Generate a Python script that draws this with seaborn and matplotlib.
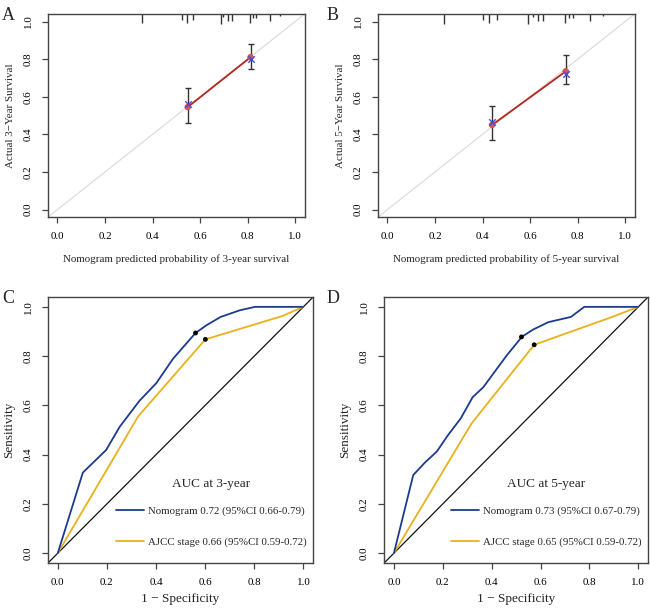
import numpy as np
import pandas as pd
import matplotlib
matplotlib.use("Agg")
import matplotlib.pyplot as plt
import matplotlib.transforms as mtransforms
from matplotlib.lines import Line2D
import seaborn as sns

# ---------------- data ----------------
# Calibration, 3-year (A)
cal3_pred = [0.548, 0.812]
cal3_obs = [0.545, 0.810]
cal3_lo = [0.462, 0.745]
cal3_hi = [0.645, 0.882]
cal3_corr = [0.560, 0.800]
rug3_x = [0.355, 0.524, 0.545, 0.571, 0.686, 0.698, 0.717, 0.736, 0.810, 0.823, 0.835, 0.895, 0.935]
rug3_n = [9, 6, 9, 6, 10, 3, 7, 7, 9, 4, 4, 7, 2]

# Calibration, 5-year (B)
cal5_pred = [0.440, 0.750]
cal5_obs = [0.450, 0.735]
cal5_lo = [0.370, 0.665]
cal5_hi = [0.550, 0.820]
cal5_corr = [0.465, 0.720]
rug5_x = [0.236, 0.402, 0.428, 0.459, 0.592, 0.613, 0.632, 0.653, 0.747, 0.765, 0.779, 0.852, 0.908]
rug5_n = [10, 6, 9, 6, 10, 3, 7, 7, 9, 4, 4, 7, 2]

# ROC, 3-year (C)
roc3_nom_fpr = [0.0, 0.102, 0.197, 0.252, 0.333, 0.401, 0.469, 0.561, 0.605, 0.663, 0.741, 0.803, 1.0]
roc3_nom_tpr = [0.0, 0.327, 0.419, 0.513, 0.619, 0.690, 0.789, 0.894, 0.925, 0.959, 0.986, 1.0, 1.0]
roc3_ajcc_fpr = [0.0, 0.327, 0.601, 0.912, 1.0]
roc3_ajcc_tpr = [0.0, 0.555, 0.868, 0.962, 1.0]
roc3_cut_nom = (0.561, 0.894)
roc3_cut_ajcc = (0.601, 0.868)
roc3_labels = ["Nomogram 0.72 (95%CI 0.66-0.79)", "AJCC stage 0.66 (95%CI 0.59-0.72)"]

# ROC, 5-year (D)
roc5_nom_fpr = [0.0, 0.079, 0.127, 0.175, 0.222, 0.274, 0.322, 0.366, 0.461, 0.512, 0.523, 0.570, 0.632, 0.724, 0.779, 1.0]
roc5_nom_tpr = [0.0, 0.317, 0.368, 0.412, 0.480, 0.548, 0.633, 0.674, 0.802, 0.864, 0.878, 0.908, 0.938, 0.959, 1.0, 1.0]
roc5_ajcc_fpr = [0.0, 0.318, 0.574, 0.890, 1.0]
roc5_ajcc_tpr = [0.0, 0.527, 0.846, 0.958, 1.0]
roc5_cut_nom = (0.522, 0.878)
roc5_cut_ajcc = (0.574, 0.846)
roc5_labels = ["Nomogram 0.73 (95%CI 0.67-0.79)", "AJCC stage 0.65 (95%CI 0.59-0.72)"]

ticks = [0.0, 0.2, 0.4, 0.6, 0.8, 1.0]
tick_labels = ["0.0", "0.2", "0.4", "0.6", "0.8", "1.0"]

# ---------------- style ----------------
sns.set_style("ticks")
plt.rcParams["font.family"] = ["Liberation Serif", "DejaVu Serif"]
plt.rcParams["axes.edgecolor"] = "#444444"
plt.rcParams["axes.linewidth"] = 1.0
plt.rcParams["xtick.color"] = "#444444"
plt.rcParams["ytick.color"] = "#444444"
plt.rcParams["xtick.labelcolor"] = "black"
plt.rcParams["ytick.labelcolor"] = "black"

NAVY = "#1c3b8f"
GOLD = "#e8b21c"

fig = plt.figure(figsize=(6.5, 6.08), dpi=100)
axA = fig.add_axes([0.0738, 0.643, 0.395, 0.334])
axB = fig.add_axes([0.5815, 0.643, 0.395, 0.334])
axC = fig.add_axes([0.0738, 0.074, 0.408, 0.4375])
axD = fig.add_axes([0.591, 0.074, 0.406, 0.4375])


def style_axes(ax, fs):
    ax.set_xlim(-0.04, 1.04)
    ax.set_ylim(-0.04, 1.04)
    ax.set_xticks(ticks)
    ax.set_xticklabels(tick_labels)
    ax.set_yticks(ticks)
    ax.set_yticklabels(tick_labels, rotation=90, va="center")
    ax.tick_params(axis="both", length=4, width=0.9, labelsize=fs, pad=7)
    for s in ax.spines.values():
        s.set_visible(True)


def calib(ax, pred, obs, lo, hi, corr, rug_x, rug_n, xlabel, ylabel):
    ax.plot([-0.04, 1.04], [-0.04, 1.04], color="#dddddd", lw=0.9, zorder=1)
    df = pd.DataFrame({"pred": pred, "obs": obs})
    sns.lineplot(data=df, x="pred", y="obs", ax=ax, color="#b3261e", lw=1.3,
                 estimator=None, zorder=3)
    ax.errorbar(pred, obs, yerr=[np.array(obs) - np.array(lo), np.array(hi) - np.array(obs)],
                fmt="none", ecolor="#333333", elinewidth=1.0, capsize=2.5, capthick=1.0, zorder=2)
    sns.scatterplot(x=pred, y=obs, ax=ax, color="#d9534f", s=22, edgecolor="none", zorder=4)
    sns.scatterplot(x=pred, y=corr, ax=ax, color="#4b4bd6", marker="x", s=22,
                    linewidth=1.0, zorder=5)
    trans = mtransforms.blended_transform_factory(ax.transData, ax.transAxes)
    ax.vlines(rug_x, 1.0 - np.array(rug_n) * 0.0049, 1.0, transform=trans,
              color="#333333", lw=1.0, zorder=2)
    style_axes(ax, 7.9)
    ax.set_xlabel(xlabel, fontsize=7.9, labelpad=9)
    ax.set_ylabel(ylabel, fontsize=7.9, labelpad=6)


def roc(ax, nf, nt, af, at, cn, ca, labels, title):
    ax.plot([-0.04, 1.04], [-0.04, 1.04], color="#111111", lw=0.9, zorder=1)
    sns.lineplot(x=nf, y=nt, ax=ax, color=NAVY, lw=1.3, estimator=None, sort=False, zorder=3)
    sns.lineplot(x=af, y=at, ax=ax, color=GOLD, lw=1.3, estimator=None, sort=False, zorder=2)
    sns.scatterplot(x=[cn[0], ca[0]], y=[cn[1], ca[1]], ax=ax, color="black", s=12,
                    edgecolor="none", zorder=5)
    handles = [Line2D([], [], color=NAVY, lw=1.3), Line2D([], [], color=GOLD, lw=1.3)]
    leg = ax.legend(handles, labels, title=title, loc="lower right",
                    bbox_to_anchor=(1.0, 0.035), frameon=False, fontsize=7.8,
                    title_fontsize=9.5, handlelength=2.6, handletextpad=0.4,
                    labelspacing=1.95, borderaxespad=0.2)
    leg._legend_box.sep = 12
    style_axes(ax, 7.9)
    ax.set_xlabel("1 \u2212 Specificity", fontsize=9.5, labelpad=4)
    ax.set_ylabel("Sensitivity", fontsize=9.5, labelpad=6)


calib(axA, cal3_pred, cal3_obs, cal3_lo, cal3_hi, cal3_corr, rug3_x, rug3_n,
      "Nomogram predicted probability of 3-year survival", "Actual 3\u2212Year Survival")
calib(axB, cal5_pred, cal5_obs, cal5_lo, cal5_hi, cal5_corr, rug5_x, rug5_n,
      "Nomogram predicted probability of 5-year survival", "Actual 5\u2212Year Survival")
roc(axC, roc3_nom_fpr, roc3_nom_tpr, roc3_ajcc_fpr, roc3_ajcc_tpr, roc3_cut_nom, roc3_cut_ajcc,
    roc3_labels, "AUC at 3-year")
roc(axD, roc5_nom_fpr, roc5_nom_tpr, roc5_ajcc_fpr, roc5_ajcc_tpr, roc5_cut_nom, roc5_cut_ajcc,
    roc5_labels, "AUC at 5-year")

for lab, x, y in [("A", 0.003, 0.988), ("B", 0.503, 0.988), ("C", 0.003, 0.523), ("D", 0.503, 0.523)]:
    fig.text(x, y, lab, fontsize=13, va="top", ha="left")

fig.savefig("out.png", dpi=100)
